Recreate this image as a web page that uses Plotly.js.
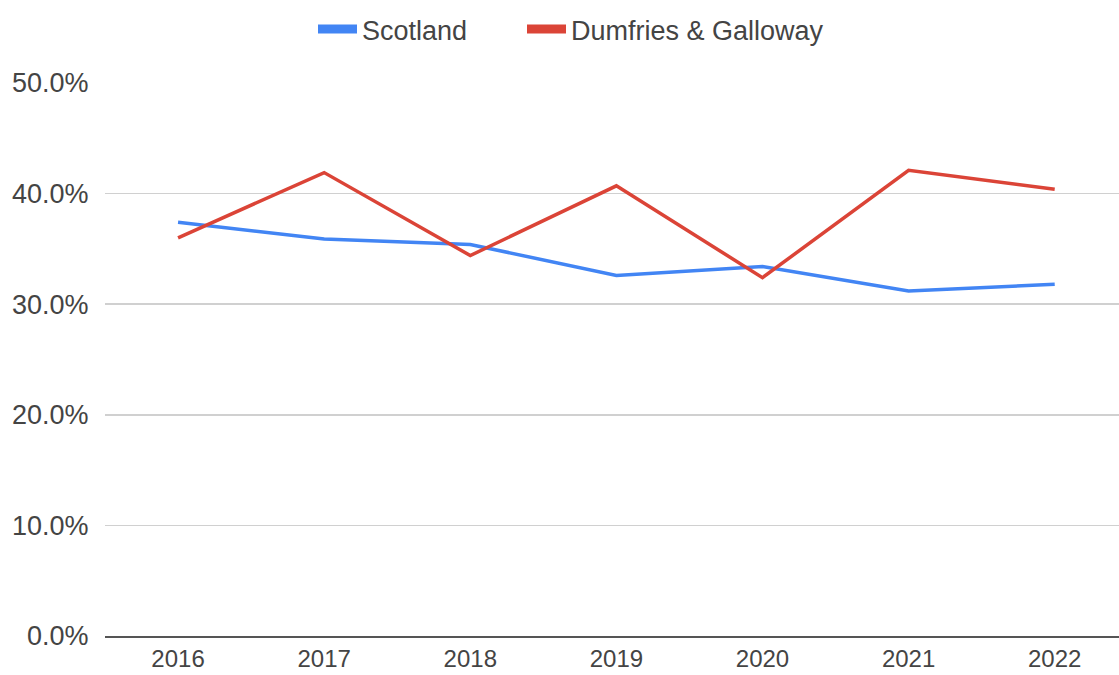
<!DOCTYPE html>
<html>
<head>
<meta charset="utf-8">
<script src="https://cdn.plot.ly/plotly-3.0.1.min.js"></script>
<style>html,body{margin:0;padding:0;background:#fff;}#chart{width:1119px;height:675px;}</style>
</head>
<body>
<div id="chart"></div>
<script>
const years = ['2016','2017','2018','2019','2020','2021','2022'];
const scotland = [0.374, 0.359, 0.354, 0.326, 0.334, 0.312, 0.318];
const dumfries = [0.360, 0.419, 0.344, 0.407, 0.324, 0.421, 0.404];
const seriesNames = ['Scotland', 'Dumfries & Galloway'];
const seriesColors = ['#4285F4', '#DB4437'];
const yTicks = [0, 0.1, 0.2, 0.3, 0.4, 0.5];

const fam = 'Liberation Sans, Arial, sans-serif';
const xFont = {family: fam, size: 24, color: '#444'};
const yFont = {family: fam, size: 27, color: '#444'};
const legFont = {family: fam, size: 27, color: '#444'};

const traces = [
  {x: years, y: scotland, name: seriesNames[0], type: 'scatter', mode: 'lines',
   line: {color: seriesColors[0], width: 3.5}, showlegend: false},
  {x: years, y: dumfries, name: seriesNames[1], type: 'scatter', mode: 'lines',
   line: {color: seriesColors[1], width: 3.5}, showlegend: false},
  // legend-only entries (thick short swatches like the reference)
  {x: [null], y: [null], name: seriesNames[0], type: 'scatter', mode: 'lines',
   line: {color: seriesColors[0], width: 9}, showlegend: true, legend: 'legend', hoverinfo: 'skip'},
  {x: [null], y: [null], name: seriesNames[1], type: 'scatter', mode: 'lines',
   line: {color: seriesColors[1], width: 9}, showlegend: true, legend: 'legend2', hoverinfo: 'skip'}
];

const legBase = {orientation: 'h', xref: 'container', yref: 'container', xanchor: 'left',
                 y: 1 - 5/675, yanchor: 'top', font: legFont, itemwidth: 39, bgcolor: 'rgba(0,0,0,0)'};

const layout = {
  width: 1119, height: 675,
  margin: {l: 105, r: 0, t: 83, b: 39},
  paper_bgcolor: '#fff', plot_bgcolor: '#fff',
  font: xFont,
  showlegend: true,
  legend: Object.assign({}, legBase, {x: 313/1119}),
  legend2: Object.assign({}, legBase, {x: 522/1119}),
  xaxis: {type: 'category', range: [-0.5, 6.44], showgrid: false, zeroline: false,
          showline: true, linecolor: '#555', linewidth: 2,
          ticks: '', tickfont: xFont, fixedrange: true},
  yaxis: {range: [0, 0.5], tickvals: yTicks, tickformat: '.1%', showgrid: true,
          gridcolor: '#d0d0d0', gridwidth: 1.5, zeroline: false, showline: false,
          ticks: 'outside', ticklen: 10, tickcolor: 'rgba(0,0,0,0)', tickfont: yFont, fixedrange: true}
};

Plotly.newPlot('chart', traces, layout, {displayModeBar: false, staticPlot: true});
</script>
</body>
</html>
